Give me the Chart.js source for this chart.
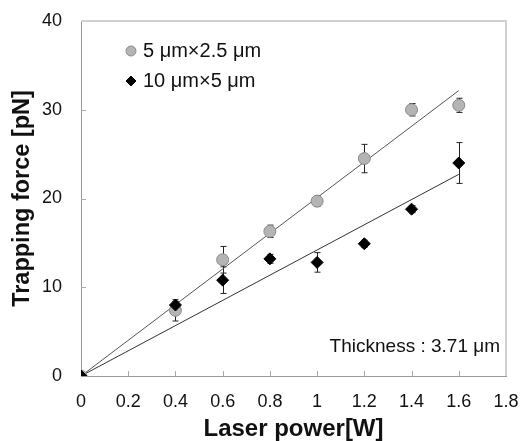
<!DOCTYPE html>
<html><head><meta charset="utf-8">
<script src="https://cdn.jsdelivr.net/npm/chart.js@4/dist/chart.umd.min.js"></script>
<style>html,body{margin:0;padding:0;background:#fff}#wrap{width:522px;height:441px}</style>
</head><body><div id="wrap"><canvas id="c" width="522" height="441"></canvas></div>
<script>
// ---- data ----
const laserPower = [0, 0.4, 0.6, 0.8, 1.0, 1.2, 1.4, 1.6];
const force5 = [0, 7.4, 13.1, 16.3, 19.7, 24.5, 30.0, 30.5];
const err5 = [0, 1.2, 1.5, 0.7, 0.6, 1.6, 0.7, 0.8];
const force10 = [0, 8.0, 10.8, 13.2, 12.8, 14.9, 18.8, 24.0];
const err10 = [0, 0.4, 1.5, 0.5, 1.1, 0.4, 0.4, 2.3];
const fitSlopes = [20.1, 14.2];          // linear fits through origin (pN per W)
const fitRange = [0, 1.6];
const seriesLabels = ['5 \u03bcm\u00d72.5 \u03bcm', '10 \u03bcm\u00d75 \u03bcm'];
const xTicks = [0, 0.2, 0.4, 0.6, 0.8, 1.0, 1.2, 1.4, 1.6, 1.8];
const yTicks = [0, 10, 20, 30, 40];
const xTitle = 'Laser power[W]';
const yTitle = 'Trapping force [pN]';
const noteText = 'Thickness : 3.71 \u03bcm';

const FONT = "'Liberation Sans', Arial, sans-serif";
const pts = (ys) => laserPower.map((x, i) => ({x, y: ys[i]}));
const fitPts = (k) => fitRange.map(x => ({x, y: k * x}));

const errorBars = {
  id: 'errorBars',
  beforeDatasetsDraw(chart) {
    const {ctx, scales: {x, y}} = chart;
    ctx.save();
    ctx.strokeStyle = '#222';
    ctx.lineWidth = 1;
    chart.data.datasets.forEach(ds => {
      if (!ds.errors) return;
      ds.data.forEach((p, i) => {
        const e = ds.errors[i];
        if (!e) return;
        const px = Math.round(x.getPixelForValue(p.x)) + 0.5;
        const t = y.getPixelForValue(p.y + e), b = y.getPixelForValue(p.y - e);
        ctx.beginPath();
        ctx.moveTo(px, t); ctx.lineTo(px, b);
        ctx.moveTo(px - 3, t); ctx.lineTo(px + 3, t);
        ctx.moveTo(px - 3, b); ctx.lineTo(px + 3, b);
        ctx.stroke();
      });
    });
    ctx.restore();
  }
};

const frame = {
  id: 'frame',
  beforeDatasetsDraw(chart) {
    const {ctx, chartArea: a, scales: {x, y}} = chart;
    ctx.save();
    ctx.strokeStyle = '#d0d0d0';
    ctx.lineWidth = 2;
    ctx.beginPath();
    ctx.moveTo(a.left, a.top); ctx.lineTo(a.right, a.top); ctx.lineTo(a.right, a.bottom);
    ctx.stroke();
    ctx.strokeStyle = '#aaa';
    ctx.lineWidth = 1;
    ctx.beginPath();
    xTicks.slice(1, -1).forEach(v => {
      const px = Math.round(x.getPixelForValue(v)) + 0.5;
      ctx.moveTo(px, a.bottom); ctx.lineTo(px, a.bottom - 5);
    });
    yTicks.slice(1, -1).forEach(v => {
      const py = Math.round(y.getPixelForValue(v)) + 0.5;
      ctx.moveTo(a.left, py); ctx.lineTo(a.left + 5, py);
    });
    ctx.stroke();
    ctx.restore();
  }
};

const notes = {
  id: 'notes',
  afterDraw(chart) {
    const {ctx, chartArea: a} = chart;
    ctx.save();
    ctx.fillStyle = '#111';
    ctx.font = '19px ' + FONT;
    ctx.textAlign = 'right';
    ctx.textBaseline = 'middle';
    ctx.fillText(noteText, a.right - 6, a.bottom - 29);
    // legend
    ctx.font = '20px ' + FONT;
    ctx.textAlign = 'left';
    const items = chart.data.datasets.filter(d => d.legend);
    items.forEach((ds, i) => {
      const lx = a.left + 50, ly = a.top + 30 + i * 30;
      ctx.fillStyle = ds.backgroundColor;
      ctx.strokeStyle = ds.borderColor;
      ctx.lineWidth = 1;
      Chart.helpers.drawPoint(ctx, {pointStyle: ds.pointStyle, radius: 5, borderWidth: 1}, lx, ly);
      ctx.fillStyle = '#111';
      ctx.fillText(ds.label, lx + 12, ly);
    });
    ctx.restore();
  }
};

new Chart(document.getElementById('c'), {
  type: 'scatter',
  data: {
    datasets: [
      {label: seriesLabels[0], data: pts(force5), errors: err5, legend: true, order: 1,
       pointStyle: 'circle', pointRadius: 6, backgroundColor: '#b4b4b4', borderColor: '#8a8a8a', borderWidth: 1},
      {label: seriesLabels[1], data: pts(force10), errors: err10, legend: true, order: 0,
       pointStyle: 'rectRot', pointRadius: 6, backgroundColor: '#000', borderColor: '#000', borderWidth: 1},
      {label: 'fit5', data: fitPts(fitSlopes[0]), showLine: true, pointRadius: 0, order: 2,
       borderColor: '#555', borderWidth: 1},
      {label: 'fit10', data: fitPts(fitSlopes[1]), showLine: true, pointRadius: 0, order: 3,
       borderColor: '#333', borderWidth: 1}
    ]
  },
  options: {
    responsive: false, animation: false, devicePixelRatio: 1,
    layout: {padding: {top: 21, right: 16, left: 0, bottom: 0}},
    plugins: {legend: {display: false}, tooltip: {enabled: false}},
    scales: {
      x: {
        type: 'linear', min: 0, max: 1.8,
        afterBuildTicks: s => { s.ticks = xTicks.map(v => ({value: v})); },
        afterFit: s => { s.height = 65; s.paddingLeft = 0; s.paddingRight = 0; },
        grid: {display: false, drawTicks: false},
        border: {display: true, color: '#999', width: 1},
        ticks: {padding: 15, color: '#111', font: {family: FONT, size: 18},
                callback: v => String(Number(v.toFixed(1)))},
        title: {display: true, text: xTitle, color: '#111', padding: {top: 0, bottom: 0},
                font: {family: FONT, size: 24, weight: 'bold', lineHeight: 1}}
      },
      y: {
        type: 'linear', min: 0, max: 40,
        afterBuildTicks: s => { s.ticks = yTicks.map(v => ({value: v})); },
        afterFit: s => { s.width = 81; s.paddingTop = 0; s.paddingBottom = 0; },
        grid: {display: false, drawTicks: false},
        border: {display: true, color: '#999', width: 1},
        ticks: {padding: 19, color: '#111', font: {family: FONT, size: 18}},
        title: {display: true, text: yTitle, color: '#111', padding: {top: 11, bottom: 0},
                font: {family: FONT, size: 23.5, weight: 'bold', lineHeight: 1}}
      }
    }
  },
  plugins: [errorBars, frame, notes]
});
</script>
</body></html>
